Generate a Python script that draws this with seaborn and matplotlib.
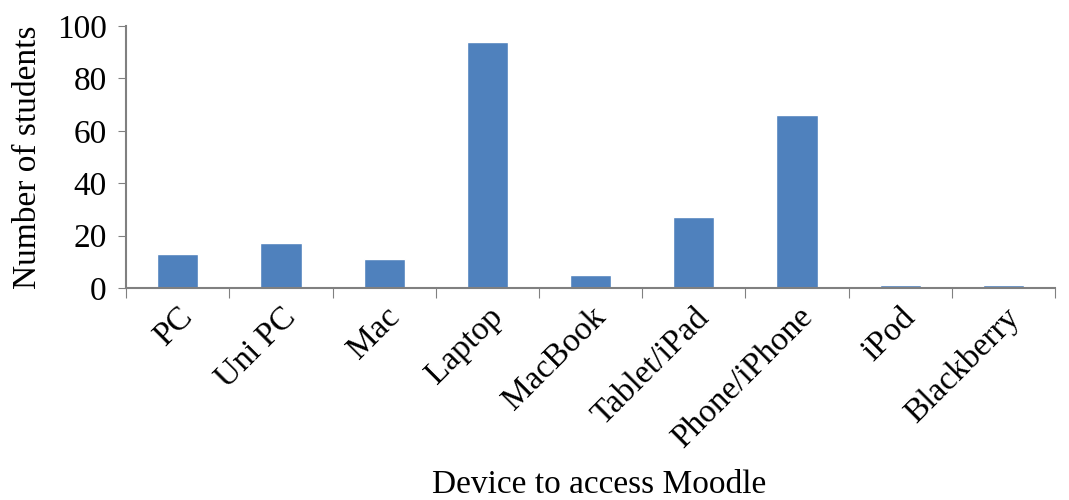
import pandas as pd
import matplotlib.pyplot as plt
import seaborn as sns

devices = ["PC", "Uni PC", "Mac", "Laptop", "MacBook", "Tablet/iPad",
           "Phone/iPhone", "iPod", "Blackberry"]
students = [13, 17, 11, 94, 5, 27, 66, 1, 1]

df = pd.DataFrame({"Device": devices, "Students": students})

sns.set_style("white")
plt.rcParams['font.family'] = ['Liberation Serif', 'DejaVu Serif']
plt.rcParams['text.color'] = 'black'
plt.rcParams['axes.labelcolor'] = 'black'
plt.rcParams['xtick.color'] = 'black'
plt.rcParams['ytick.color'] = 'black'

fig = plt.figure(figsize=(10.69, 5), dpi=100)
ax = fig.add_axes([0.118, 0.424, 0.869, 0.524])

sns.barplot(data=df, x="Device", y="Students", color="#4F81BD",
            saturation=1, width=0.4, ax=ax)

ax.set_ylim(0, 100)
ax.set_xlim(-0.5, len(devices) - 0.5)
ax.set_yticks(range(0, 101, 20))
ax.tick_params(axis='y', labelsize=24, direction='out', length=6,
               color='#808080', left=True, pad=8)
# ticks between categories on x
ax.set_xticks([i - 0.5 for i in range(len(devices) + 1)], minor=False)
ax.set_xticklabels([])
ax.set_xticks(range(len(devices)), minor=True)
ax.set_xticklabels(devices, minor=True, rotation=45, ha='right',
                   rotation_mode='anchor', fontsize=24)
ax.tick_params(axis='x', which='major', direction='out', length=7,
               color='#808080', bottom=True)
ax.tick_params(axis='x', which='minor', length=0, pad=10)

for s in ['top', 'right']:
    ax.spines[s].set_visible(False)
for s in ['left', 'bottom']:
    ax.spines[s].set_color('#808080')
    ax.spines[s].set_linewidth(1.5)

ax.set_ylabel("Number of students", fontsize=24, labelpad=10)
ax.set_xlabel("")
fig.text(0.56, 0.0, "Device to access Moodle", fontsize=24, ha='center',
         va='bottom')

fig.savefig("out.png", dpi=100)
